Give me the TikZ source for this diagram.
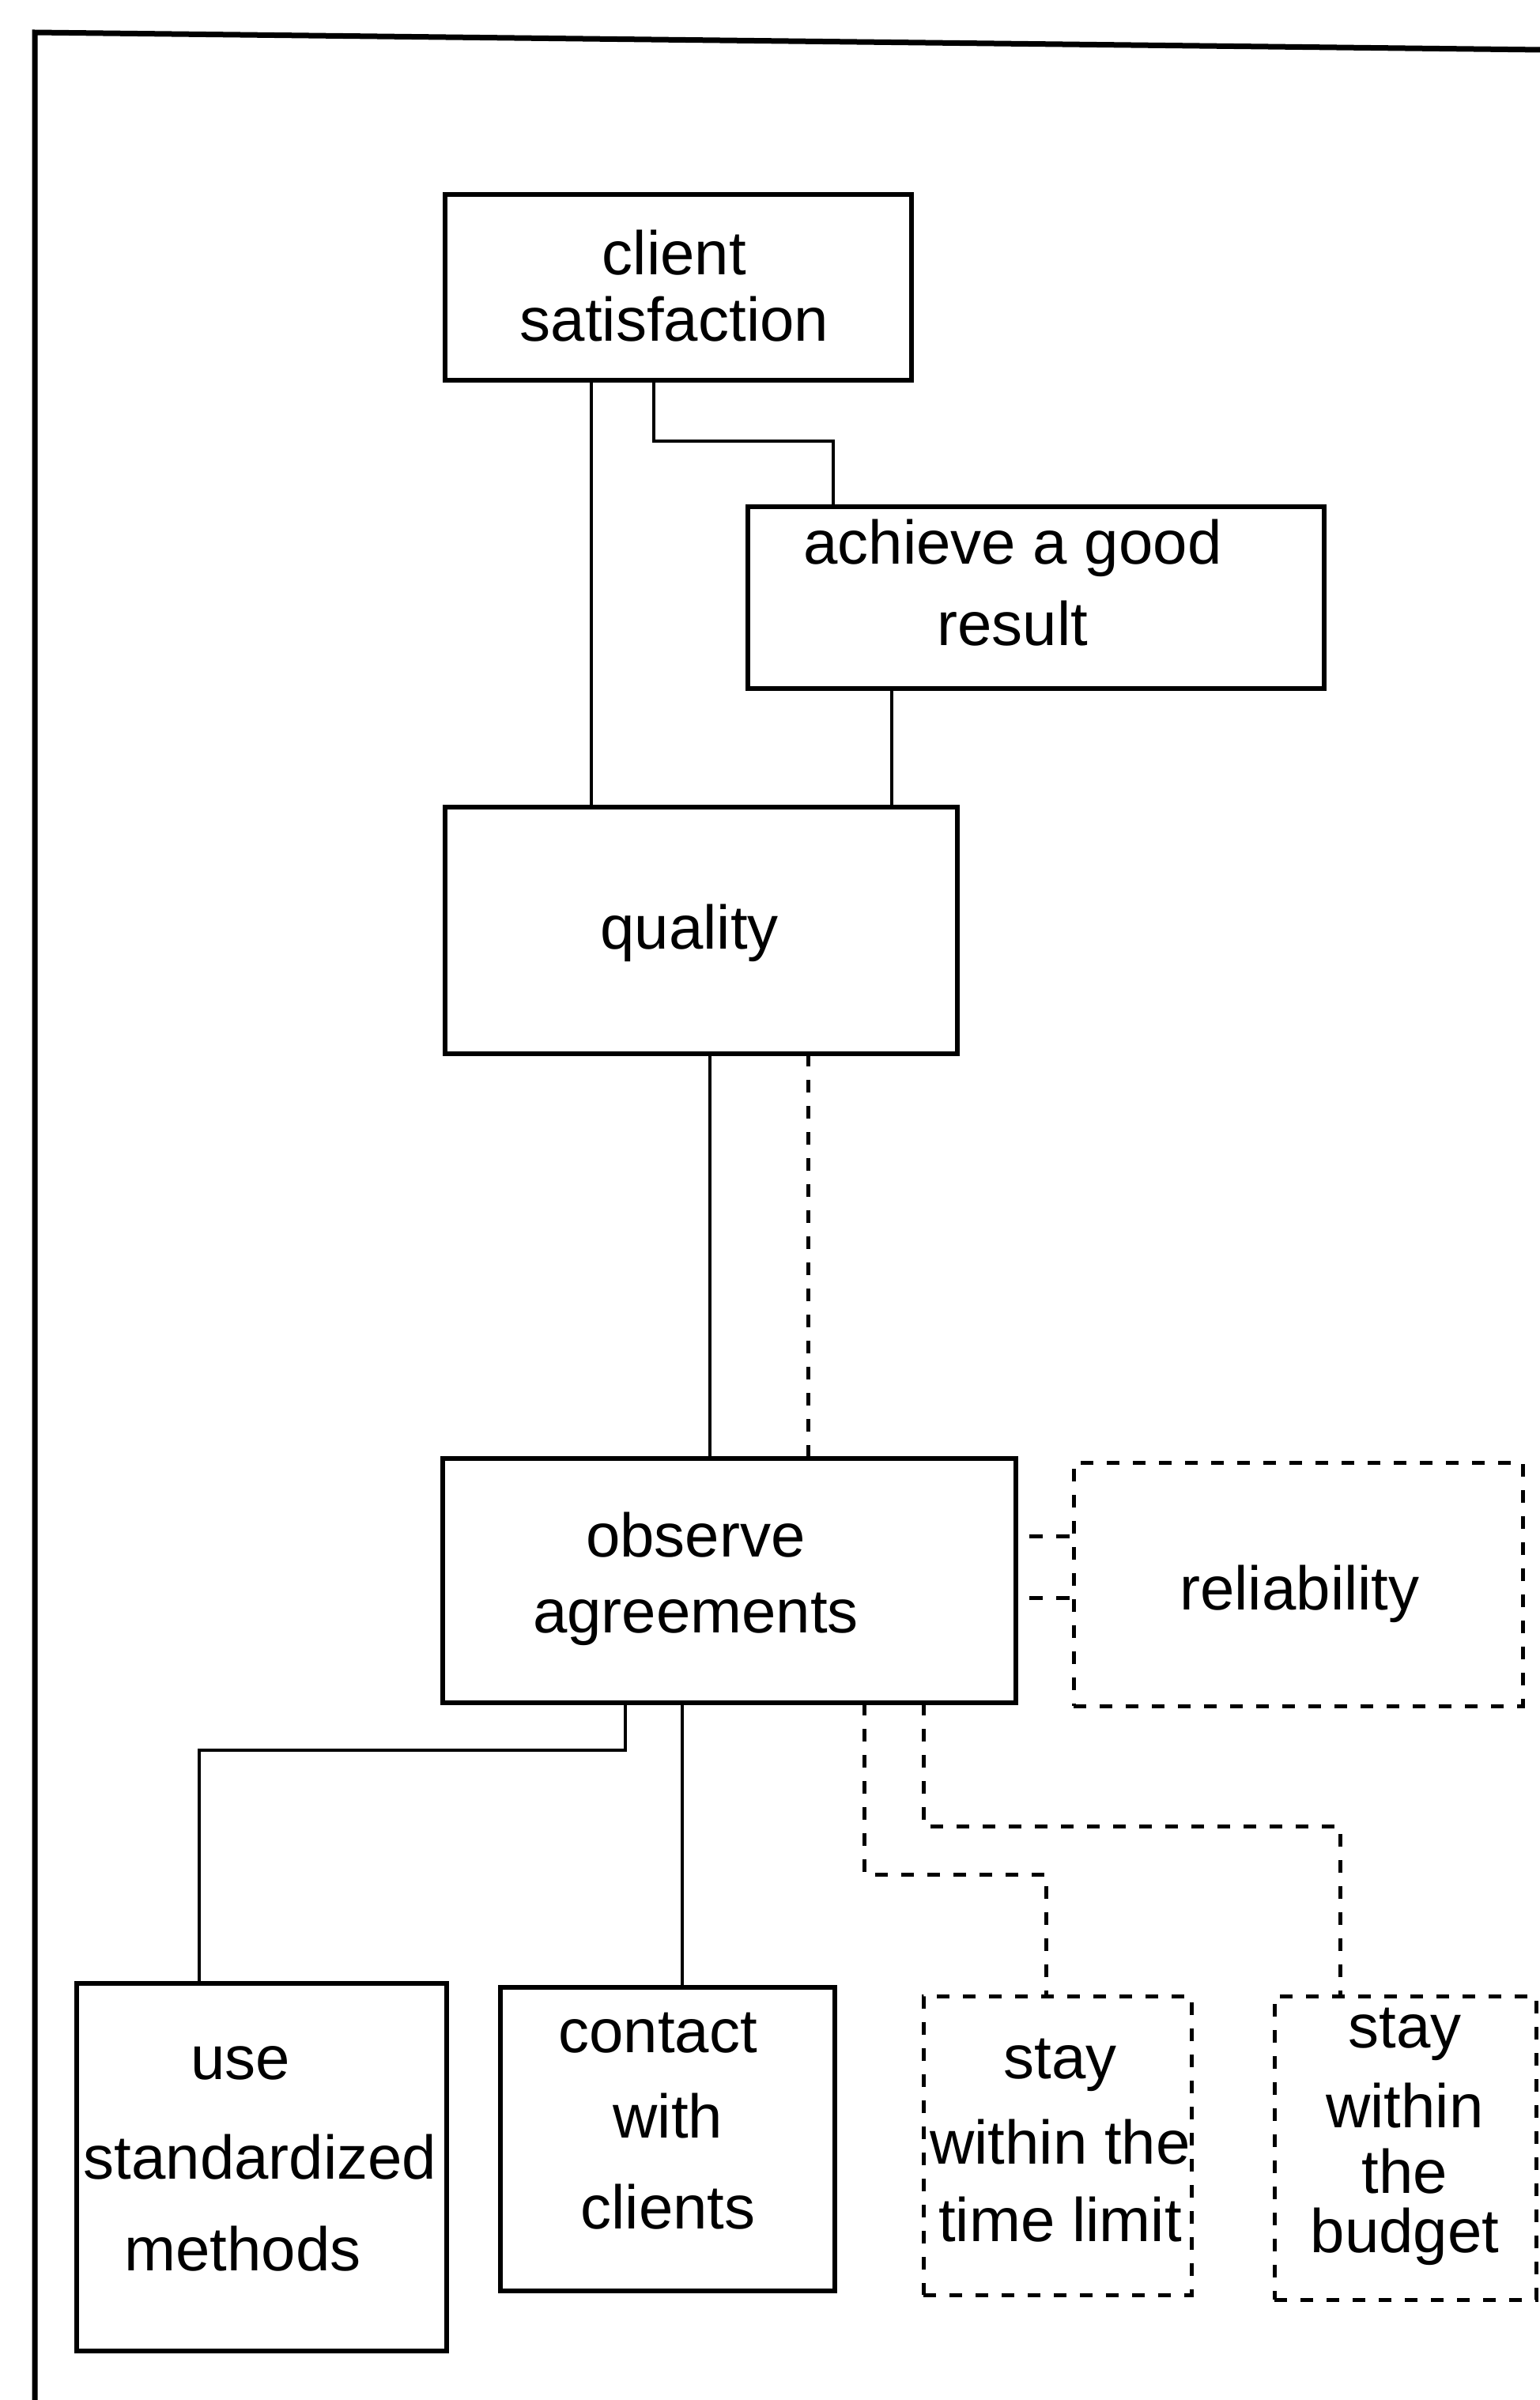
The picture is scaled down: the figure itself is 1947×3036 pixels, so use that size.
\documentclass[tikz,border=0pt]{standalone}
\usepackage{fontspec}
\setmainfont{Liberation Sans}
\begin{document}
\begin{tikzpicture}[x=1pt,y=-1pt,
  box/.style={draw, line width=6pt, rectangle, inner sep=0pt, outer sep=0pt},
  dbox/.style={box, line width=5pt, dash pattern=on 16pt off 17pt},
  link/.style={line width=3.5pt},
  dlink/.style={line width=5pt, dash pattern=on 16pt off 17pt},
  shortlink/.style={line width=5pt, dash pattern=on 17pt off 17pt, dash phase=17pt},
  txt/.style={align=center, inner sep=0pt, font=\fontsize{78}{#1}\selectfont},
]
\useasboundingbox (0,0) rectangle (1947,3036);

% outer frame (only its left and top edges are in view)
\draw[line width=7pt] (44,3040) -- (44,41) -- (1951,63);

% solid boxes
\node[box, minimum width=590pt, minimum height=235pt] (client)  at (858,363.5)   {};
\node[box, minimum width=729pt, minimum height=230pt] (achieve) at (1310.5,756)  {};
\node[box, minimum width=648pt, minimum height=312pt] (quality) at (887,1177)    {};
\node[box, minimum width=725pt, minimum height=309pt] (observe) at (922.5,1999.5){};
\node[box, minimum width=468pt, minimum height=465pt] (use)     at (331,2741.5)  {};
\node[box, minimum width=423pt, minimum height=384pt] (contact) at (844.5,2706)  {};

% dashed boxes
\node[dbox, minimum width=568pt, minimum height=308pt] (reliab) at (1642,2004)   {};
\node[dbox, minimum width=339pt, minimum height=378pt] (stay1)  at (1337.5,2714) {};
\node[dbox, minimum width=331pt, minimum height=384pt] (stay2)  at (1777.5,2717) {};

% labels
\node[txt=84]  (t-client)  at (853,362)     {client\\satisfaction};
\node[txt=103] (t-achieve) at (1281,737.5)  {achieve a good\\result};
\node[txt=84]  (t-quality) at (872,1180)    {quality};
\node[txt=96]  (t-observe) at (880,1997)    {observe\\agreements};
\node[txt=84]  (t-reliab)  at (1644,2016)   {reliability};
\node[txt=116] (t-use)     at (329,2730.5)  {use\hspace*{50pt}\\[10pt]standardized\\methods\hspace*{44pt}};
\node[txt=108] (t-contact) at (845,2683.5)  {contact\hspace*{26pt}\\with\hspace*{76pt}\\[7pt]clients};
\node[txt=98]  (t-stay1)   at (1341,2708)   {stay\\[10pt]within the\\time limit};
\node[txt=75]  (t-stay2)   at (1777,2703)   {stay\\[26pt]within\\[8pt]the\\budget};

% solid connectors
\draw[link] ([xshift=-110pt]client.south) -- ([xshift=-139pt]quality.north);
\draw[link] ([xshift=-31pt]client.south) -- ++(0,77) -| ([xshift=-256.5pt]achieve.north);
\draw[link] ([xshift=-182.5pt]achieve.south) -- ([xshift=241pt]quality.north);
\draw[link] ([xshift=11pt]quality.south) -- ([xshift=-24.5pt]observe.north);
\draw[link] ([xshift=-131.5pt]observe.south) -- ++(0,60) -| ([xshift=-79pt]use.north);
\draw[link] ([xshift=-59.5pt]observe.south) -- ([xshift=18.5pt]contact.north);

% dashed connectors
\draw[dlink] ([xshift=135pt]quality.south) -- ([xshift=99.5pt]observe.north);
\coordinate (r1) at ([yshift=56.5pt]observe.east);
\coordinate (r2) at ([yshift=-21.5pt]observe.east);
\draw[shortlink] (r1) -- (r1 -| reliab.west);
\draw[shortlink] (r2) -- (r2 -| reliab.west);
\draw[dlink] ([xshift=170.5pt]observe.south) -- ++(0,217) -| ([xshift=-14.5pt]stay1.north);
\draw[dlink] ([xshift=245.5pt]observe.south) -- ++(0,156) -| ([xshift=-82.5pt]stay2.north);
\end{tikzpicture}
\end{document}
